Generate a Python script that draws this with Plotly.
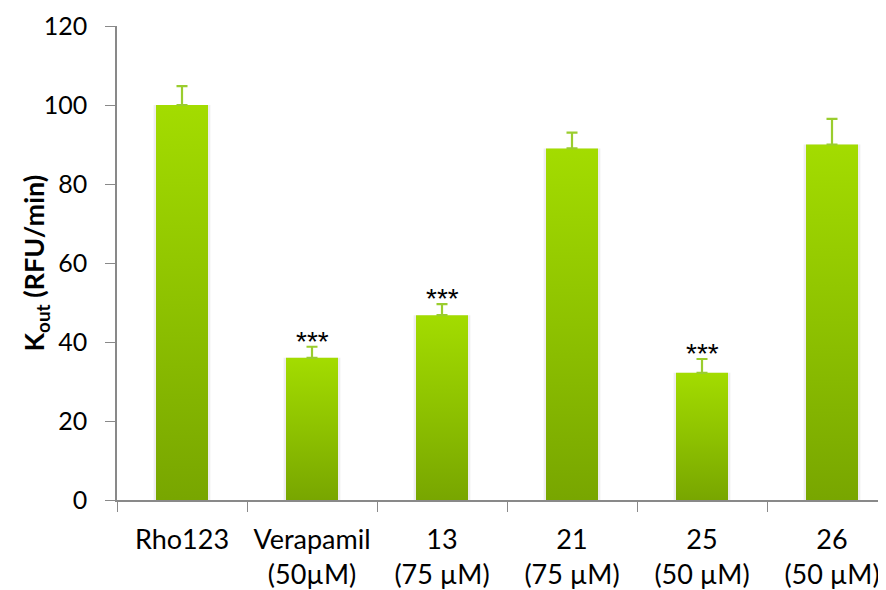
import plotly.graph_objects as go

categories = ["Rho123", "Verapamil<br>(50µM)", "13<br>(75 µM)", "21<br>(75 µM)", "25<br>(50 µM)", "26<br>(50 µM)"]
values = [100.0, 36.0, 46.8, 89.0, 32.2, 90.0]
errors = [4.8, 2.8, 2.8, 4.0, 3.5, 6.5]
significance = ["", "***", "***", "", "***", ""]
y_title = "<b>K<sub>out</sub> (RFU/min)</b>"

bar_w = 0.40
fig = go.Figure()

idx = list(range(len(categories)))
for i, v in zip(idx, values):
    x0, x1 = i - bar_w / 2, i + bar_w / 2
    # soft side shadow
    fig.add_trace(go.Scatter(
        x=[x0 - 0.018, x1 + 0.018, x1 + 0.018, x0 - 0.018, x0 - 0.018],
        y=[0, 0, v, v, 0], fill="toself", mode="lines",
        line=dict(width=0), fillcolor="rgba(140,140,140,0.15)",
        hoverinfo="skip", showlegend=False))
    fig.add_trace(go.Scatter(
        x=[x0, x1, x1, x0, x0], y=[0, 0, v, v, 0],
        fill="toself", mode="lines", line=dict(width=0),
        fillgradient=dict(type="vertical",
                          colorscale=[[0, "#78A600"], [0.5, "#8EC200"], [1, "#A3DC00"]]),
        hoverinfo="skip", showlegend=False))

fig.add_trace(go.Scatter(
    x=idx, y=values, mode="markers", marker=dict(size=1, opacity=0),
    error_y=dict(type="data", array=errors, arrayminus=[0] * len(errors), symmetric=False,
                 color="#9ACD2E", thickness=2.2, width=5.5),
    showlegend=False, hoverinfo="skip"))

for i, (v, e, s) in enumerate(zip(values, errors, significance)):
    if s:
        fig.add_annotation(x=i, y=v + e + 1.4, text=s, showarrow=False, yanchor="middle",
                           font=dict(family="Liberation Sans", size=28, color="#000000"))

fig.add_annotation(x=-0.106, y=0.5, xref="paper", yref="paper", text=y_title, textangle=-90,
                   showarrow=False, xanchor="center", yanchor="middle",
                   font=dict(family="Lato", size=27, color="#000000"))

axis_color = "#898989"
fig.update_layout(
    width=878, height=582,
    margin=dict(l=109, r=0, t=18, b=90),
    paper_bgcolor="white", plot_bgcolor="white",
    font=dict(family="Lato", color="#000000"),
    xaxis=dict(
        range=[-0.5, -0.5 + 769 / 130], tickmode="array", tickvals=idx, ticktext=categories,
        ticks="", showgrid=False, zeroline=False, showline=True, linecolor=axis_color, linewidth=1.5,
        tickfont=dict(family="Lato", size=27), automargin=False, ticklabelstandoff=15,
        minor=dict(tickmode="array", tickvals=[i - 0.5 for i in range(len(categories) + 1)],
                   ticks="outside", ticklen=10, tickcolor=axis_color, tickwidth=1.2, showgrid=False),
    ),
    yaxis=dict(
        range=[0, 120], tickmode="linear", tick0=0, dtick=20, ticks="outside", ticklen=10,
        tickcolor=axis_color, tickwidth=1.2, showgrid=False, zeroline=False,
        showline=True, linecolor=axis_color, linewidth=1.5,
        tickfont=dict(family="Lato", size=25), ticklabelstandoff=13, automargin=False,
    ),
)

fig.write_html("out.html")
